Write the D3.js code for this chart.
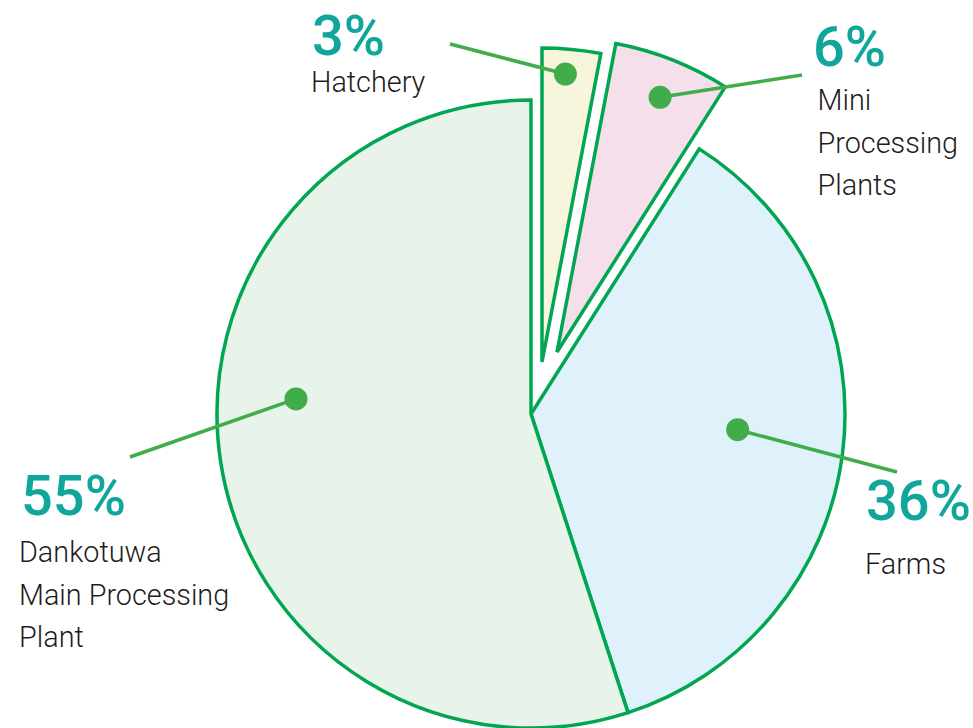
<!DOCTYPE html>
<html>
<head>
<meta charset="utf-8">
<script src="https://cdn.jsdelivr.net/npm/d3@7"></script>
<style>
  html, body { margin: 0; padding: 0; background: #ffffff; }
  svg { display: block; }
</style>
</head>
<body>
<svg id="chart" width="973" height="728"></svg>
<script>
// Share of the total by site, in percent
const categories = ["Hatchery", "Mini Processing Plants", "Farms", "Dankotuwa Main Processing Plant"];
const shares = [3, 6, 36, 55];
const percentLabels = ["3%", "6%", "36%", "55%"];
const nameLines = [
  ["Hatchery"],
  ["Mini", "Processing", "Plants"],
  ["Farms"],
  ["Dankotuwa", "Main Processing", "Plant"]
];

// Styling
const fills = ["#f8f5dd", "#f5dfea", "#dff2fb", "#e8f3e9"];
const edgeColor = "#00a651";
const pointerColor = "#40ad4a";
const percentColor = "#11a69c";
const textColor = "#1f1c1d";

// Layout
const center = [531, 414];
const radius = 314;
const explode = [[11, -52], [26, -62], [0, 0], [0, 0]];      // pulled-out slices
const dotSpot = [[0.43, 0.92], [0.52, 0.875], [0.478, 0.66], [0.564, 0.75]]; // [angle fraction, radius fraction]
const leaderEnd = [[450, 44], [802, 75], [897, 472], [130, 457]];
const labelPos = [
  { px: 312, py: 55,  nx: 311,   ny: 92 },
  { px: 813, py: 66,  nx: 817.5, ny: 110 },
  { px: 866, py: 520, nx: 865,   ny: 574 },
  { px: 21,  py: 515, nx: 19,    ny: 562 }
];
const lineStep = 42.5;

const data = categories.map((c, i) => ({ name: c, value: shares[i], i }));

const svg = d3.select("#chart");

const pie = d3.pie().value(d => d.value).sort(null).startAngle(0).endAngle(2 * Math.PI);
const arcs = pie(data);

const arc = d3.arc().innerRadius(0).outerRadius(radius);

// slices
svg.append("g")
  .selectAll("path")
  .data(arcs)
  .join("path")
  .attr("transform", d => `translate(${center[0] + explode[d.index][0]},${center[1] + explode[d.index][1]})`)
  .attr("d", arc)
  .attr("fill", d => fills[d.index])
  .attr("stroke", edgeColor)
  .attr("stroke-width", 3.5)
  .attr("stroke-linejoin", "miter");

// dot anchor for each slice, in page coordinates
function dotPoint(d) {
  const [af, rf] = dotSpot[d.index];
  const a = d.startAngle + af * (d.endAngle - d.startAngle);
  const r = rf * radius;
  return [
    center[0] + explode[d.index][0] + r * Math.sin(a),
    center[1] + explode[d.index][1] - r * Math.cos(a)
  ];
}

// leader lines
svg.append("g")
  .selectAll("line")
  .data(arcs)
  .join("line")
  .attr("x1", d => dotPoint(d)[0])
  .attr("y1", d => dotPoint(d)[1])
  .attr("x2", d => leaderEnd[d.index][0])
  .attr("y2", d => leaderEnd[d.index][1])
  .attr("stroke", pointerColor)
  .attr("stroke-width", 3.5);

// dots
svg.append("g")
  .selectAll("circle")
  .data(arcs)
  .join("circle")
  .attr("cx", d => dotPoint(d)[0])
  .attr("cy", d => dotPoint(d)[1])
  .attr("r", 11.5)
  .attr("fill", pointerColor);

// labels
const labels = svg.append("g")
  .selectAll("g")
  .data(arcs)
  .join("g");

labels.append("text")
  .attr("x", d => labelPos[d.index].px)
  .attr("y", d => labelPos[d.index].py)
  .attr("font-family", "Roboto, sans-serif")
  .attr("font-weight", 500)
  .attr("font-size", 56)
  .attr("fill", percentColor)
  .text(d => percentLabels[d.index]);

labels.each(function (d) {
  const g = d3.select(this);
  const p = labelPos[d.index];
  g.append("text")
    .attr("font-family", "Roboto, sans-serif")
    .attr("font-weight", 300)
    .attr("font-size", 28.8)
    .attr("fill", textColor)
    .selectAll("tspan")
    .data(nameLines[d.index])
    .join("tspan")
    .attr("x", p.nx)
    .attr("y", (t, k) => p.ny + k * lineStep)
    .text(t => t);
});
</script>
</body>
</html>
